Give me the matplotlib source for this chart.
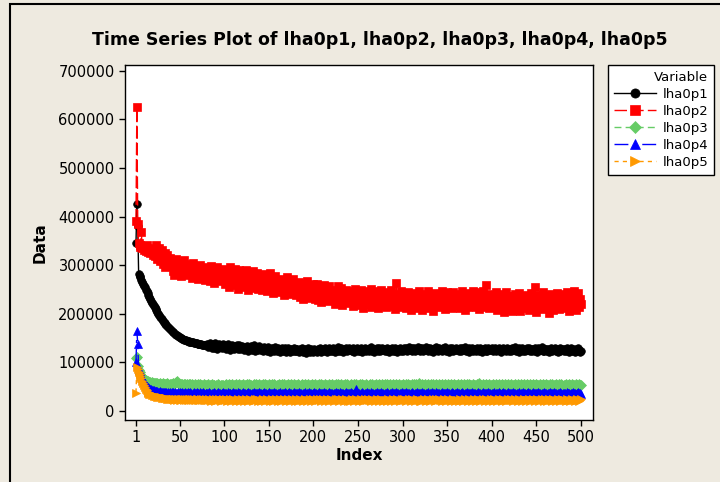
import numpy as np
import matplotlib
matplotlib.use("Agg")
import matplotlib.pyplot as plt
from matplotlib.patches import Rectangle

# values, in thousands
lha0p1 = [
    345,425,380,282,278,275,270,266,262,258,255,250,246,242,238,234,230,227,223,220,
    216,214,210,207,203,200,198,194,191,189,186,184,181,179,177,174,172,171,168,167,
    165,163,162,160,158,157,156,154,153,152,151,150,149,148,147,147,146,145,144,144,
    143,142,142,141,141,140,140,139,139,138,138,138,137,137,136,136,136,135,135,135,
    138,131,136,140,133,129,137,134,130,139,135,128,133,137,131,136,129,134,138,132,
    135,128,133,137,130,126,134,131,136,129,127,133,130,135,128,132,136,127,131,134,
    130,125,132,127,134,129,124,131,128,133,126,130,135,127,124,131,129,126,133,128,
    125,130,127,123,131,126,129,124,132,128,122,127,130,125,128,123,131,126,124,129,
    127,122,128,125,130,123,126,129,121,127,124,130,125,122,128,126,123,129,124,127,
    123,128,125,121,127,124,129,122,126,128,123,120,126,129,124,122,127,125,121,126,
    128,123,126,121,127,124,129,122,125,128,123,126,130,124,121,127,125,129,123,126,
    124,129,126,122,128,125,131,123,127,124,129,126,122,128,125,130,127,123,126,129,
    125,128,123,129,126,122,128,125,130,124,127,123,129,126,121,127,125,129,124,128,
    126,123,129,125,131,124,127,122,128,126,130,124,127,129,123,126,130,125,128,124,
    127,124,130,126,122,128,125,129,123,127,124,130,126,121,127,125,129,124,128,126,
    123,129,126,130,124,128,131,125,127,123,129,126,130,124,128,125,131,127,124,129,
    126,130,124,128,125,131,127,123,129,126,130,124,128,122,127,129,125,131,126,124,
    129,125,128,123,130,126,127,131,124,128,126,122,129,125,130,127,124,128,126,130,
    125,128,124,130,126,123,129,127,125,131,124,128,126,122,129,127,125,130,124,128,
    127,123,129,125,128,124,130,126,122,128,125,129,124,127,123,130,126,128,125,129,
    124,128,126,130,123,127,125,129,124,121,128,126,130,125,127,123,129,126,124,128,
    126,123,129,125,127,131,124,128,126,122,129,125,127,130,124,126,123,128,125,129,
    125,129,124,127,123,128,126,130,124,127,122,129,125,128,126,131,124,127,123,128,
    127,124,128,122,126,129,125,123,128,126,130,124,127,121,126,129,124,127,125,128,
    124,127,123,129,125,128,122,126,130,124,127,125,121,128,126,123,129,125,122,124,
]
lha0p2 = [
    390,625,385,345,338,342,369,335,340,332,338,330,342,328,336,331,325,334,329,320,
    334,318,341,322,312,329,336,308,320,331,302,317,325,296,312,321,305,298,315,303,
    309,288,301,280,296,312,289,299,284,305,292,278,300,287,310,283,295,302,279,293,
    298,281,293,274,305,286,279,297,283,272,294,288,301,276,290,282,296,270,289,284,
    293,275,288,268,299,281,276,290,263,285,279,296,270,287,282,274,292,267,284,278,
    262,291,270,284,255,296,278,266,288,259,281,293,268,276,252,290,273,262,285,270,
    281,256,272,290,261,268,249,283,264,276,253,288,270,258,279,262,284,251,273,266,
    276,248,268,282,255,263,279,246,270,258,284,252,266,274,243,260,277,255,268,249,
    268,244,259,271,250,262,238,265,254,276,245,258,268,241,263,251,272,247,256,262,
    238,259,243,266,235,252,247,230,261,244,255,236,268,241,250,233,257,245,262,239,
    252,231,246,262,228,243,238,255,225,249,236,260,232,244,251,226,240,257,234,246,
    229,250,238,221,245,233,258,226,241,230,253,219,238,246,227,249,235,222,244,231,
    247,225,238,216,242,230,251,222,236,244,218,233,249,227,240,212,235,246,224,238,
    221,243,230,252,215,236,226,246,219,238,231,211,244,225,237,250,218,232,224,241,
    213,236,227,245,220,232,249,216,238,226,209,235,263,222,240,218,231,246,214,229,
    240,217,232,211,228,245,221,234,207,230,243,219,226,238,212,233,222,247,216,229,
    236,208,225,241,219,232,214,229,246,211,233,222,238,205,227,242,217,230,221,236,
    214,238,225,247,219,231,210,236,228,244,216,233,222,240,212,229,245,220,235,226,
    241,218,230,212,237,225,246,221,233,208,239,227,215,243,224,236,218,231,247,222,
    230,213,238,224,244,209,229,237,219,246,226,214,233,259,221,240,211,228,235,218,
    238,215,230,222,245,207,233,219,241,226,212,236,224,203,231,244,216,228,209,237,
    220,236,205,229,215,240,223,210,234,218,243,206,228,221,237,211,226,214,239,219,
    231,208,224,242,213,236,219,255,227,204,238,216,230,211,234,223,244,209,228,217,
    236,212,229,201,224,241,215,232,207,238,220,213,242,226,209,233,218,240,214,229,
    211,237,223,244,216,231,206,240,219,233,212,246,225,208,236,218,243,214,230,221,
]
lha0p3 = [
    110,112,92,85,80,76,73,70,68,66,64,63,62,61,60,59,60,58,59,57,
    58,57,56,58,57,56,55,57,56,55,57,56,54,56,55,57,55,54,56,55,
    56,54,57,55,58,60,62,58,56,55,54,56,55,53,55,56,54,55,53,56,
    54,55,53,56,54,52,55,54,53,55,52,54,56,53,54,52,55,53,54,52,
    53,55,52,54,53,55,52,54,53,51,54,52,55,53,52,54,53,51,54,52,
    53,55,52,54,56,53,51,54,55,52,54,53,56,52,54,55,53,51,54,53,
    55,52,54,53,56,54,52,55,53,54,51,54,56,53,52,55,54,53,55,52,
    54,53,55,52,54,56,53,54,52,55,53,54,56,52,53,55,54,52,54,53,
    55,53,52,54,56,53,55,52,54,53,55,51,54,53,56,54,52,55,53,54,
    52,54,55,53,51,54,56,53,54,52,55,53,54,56,52,54,53,55,52,54,
    53,55,52,54,53,56,54,52,55,53,54,52,55,54,53,51,54,56,53,54,
    55,52,54,53,56,54,52,55,53,54,55,52,54,53,56,52,54,55,53,52,
    54,56,53,52,55,54,53,55,52,54,53,56,54,52,55,53,54,52,56,53,
    52,54,55,53,54,56,52,54,53,55,52,54,56,53,54,52,55,53,54,56,
    53,52,55,54,53,56,52,54,55,53,54,52,56,54,53,55,52,54,53,55,
    54,53,52,55,54,56,53,54,52,55,53,54,56,52,55,53,54,57,53,54,
    52,55,54,53,56,52,54,55,53,52,54,56,53,55,52,54,53,55,54,52,
    55,53,54,56,52,54,53,55,54,52,55,53,54,56,53,52,54,55,53,54,
    53,55,52,54,56,53,54,52,55,54,53,56,52,54,55,53,54,52,55,53,
    54,52,55,53,54,57,53,54,52,55,53,54,56,52,54,53,55,52,54,53,
    55,53,54,52,56,54,53,55,52,54,53,55,54,52,56,53,54,55,52,54,
    53,55,52,54,53,56,54,52,55,53,54,52,55,54,53,56,52,54,53,55,
    54,52,55,53,54,56,53,52,54,55,53,54,52,56,54,53,55,52,54,53,
    55,53,54,52,56,54,53,55,52,54,53,55,54,52,55,53,54,56,53,52,
    54,53,55,52,54,53,56,54,52,55,53,54,52,55,53,54,52,55,53,54,
]
lha0p4 = [
    100,165,138,85,82,78,72,68,64,60,57,54,52,50,48,47,46,45,44,43,
    43,42,42,41,41,40,40,41,39,40,39,40,38,39,40,38,39,38,40,37,
    39,38,40,37,39,38,37,39,38,40,37,38,39,37,38,40,38,37,39,38,
    37,39,38,36,38,39,37,38,40,37,38,36,39,38,37,39,38,36,38,37,
    38,37,39,38,36,38,37,39,38,37,36,38,39,37,38,36,38,37,39,38,
    37,38,36,39,38,37,38,36,38,39,37,38,37,36,39,38,37,38,36,38,
    39,37,38,36,38,37,39,38,37,36,38,37,39,38,36,38,37,38,39,37,
    38,36,38,37,39,38,37,36,38,39,37,38,36,38,37,39,38,37,36,38,
    37,39,38,36,38,37,38,39,37,36,38,37,39,38,37,36,38,39,37,38,
    36,38,37,39,38,37,36,38,37,39,38,36,38,37,39,38,37,36,38,37,
    39,38,37,36,38,39,37,38,36,38,37,39,38,37,36,38,37,39,38,37,
    38,36,38,37,39,38,37,38,36,39,38,37,38,36,38,37,39,38,37,38,
    37,39,38,36,38,37,39,46,40,38,37,36,38,39,37,38,36,38,37,39,
    38,37,36,38,39,37,38,36,38,37,39,38,37,36,38,39,37,38,36,38,
    37,38,39,37,36,38,37,39,38,37,36,38,39,37,38,36,38,37,39,38,
    36,38,37,39,38,37,38,36,38,39,37,38,36,38,37,39,38,37,38,36,
    38,39,37,38,36,38,37,39,38,36,38,37,39,38,37,36,38,39,37,38,
    37,36,38,39,37,38,36,38,37,39,38,37,36,38,39,37,38,36,38,37,
    39,38,37,36,38,37,39,38,36,38,37,39,38,37,36,38,37,39,38,37,
    38,36,38,37,39,38,37,36,38,39,37,38,36,38,37,39,38,37,36,38,
    37,39,38,36,38,37,38,39,37,36,38,37,39,38,37,36,38,39,37,38,
    36,38,37,39,38,37,36,38,37,39,38,36,38,37,39,38,37,36,38,37,
    39,37,38,36,38,39,37,38,36,38,37,39,38,37,36,38,37,39,38,37,
    38,36,38,37,39,38,37,36,38,39,37,38,36,38,37,39,38,37,36,38,
    37,38,36,39,38,37,38,36,38,37,39,38,37,36,38,37,39,38,37,34,
]
lha0p5 = [
    38,90,86,80,76,72,68,62,58,54,50,46,43,40,38,36,35,34,33,32,
    31,31,30,30,29,29,28,28,28,27,27,27,26,26,26,25,25,25,25,24,
    24,25,24,23,25,24,23,24,25,23,24,23,25,24,22,24,23,25,23,24,
    23,24,22,24,23,25,23,22,24,23,24,22,23,25,23,24,22,23,24,22,
    23,22,24,23,21,23,24,22,23,21,24,22,23,24,22,21,23,22,24,23,
    22,24,21,23,22,24,23,21,22,24,23,22,21,23,24,22,23,21,22,24,
    23,21,22,24,23,22,21,23,24,22,23,21,22,24,23,22,24,21,23,22,
    21,23,24,22,23,21,22,24,23,22,21,23,22,24,21,23,22,24,23,21,
    22,24,23,21,22,23,24,22,21,23,22,24,23,21,22,24,23,22,21,23,
    24,22,21,23,24,22,23,21,22,24,23,22,21,23,22,24,21,23,22,24,
    23,21,22,24,23,22,24,21,23,22,24,23,21,22,24,23,22,21,23,24,
    22,23,21,22,24,23,22,24,21,23,22,24,23,21,22,23,24,22,21,23,
    21,23,24,22,23,21,22,24,23,22,21,23,24,22,23,21,22,24,23,22,
    24,22,23,21,22,24,23,22,21,23,24,22,23,21,22,24,23,21,22,23,
    22,21,23,24,22,23,21,22,24,23,22,21,23,24,22,23,21,22,24,22,
    23,24,22,21,23,22,24,23,21,22,24,23,22,21,23,24,22,23,21,22,
    21,23,22,24,23,21,22,23,24,22,21,23,22,24,23,21,22,24,23,22,
    24,22,23,21,22,24,23,22,21,23,24,22,23,21,22,23,24,22,21,23,
    22,23,21,24,22,23,22,21,23,24,22,23,21,22,24,23,22,21,23,24,
    23,21,22,23,24,22,21,23,22,24,23,21,22,24,23,22,21,23,24,22,
    21,23,24,22,23,21,22,24,23,22,21,23,24,22,23,21,22,24,23,22,
    24,22,23,21,22,24,23,22,21,23,24,22,23,21,22,24,23,21,22,23,
    22,24,21,23,22,24,23,21,22,23,24,22,21,23,22,24,23,21,22,24,
    23,21,22,24,23,22,21,23,24,22,23,21,22,24,23,22,21,23,24,22,
    22,23,21,24,22,23,22,21,23,24,22,23,21,22,24,23,22,21,23,25,
]

names = ["lha0p1", "lha0p2", "lha0p3", "lha0p4", "lha0p5"]
series = [lha0p1, lha0p2, lha0p3, lha0p4, lha0p5]
xticks = [1, 50, 100, 150, 200, 250, 300, 350, 400, 450, 500]
yticks = [0, 100000, 200000, 300000, 400000, 500000, 600000, 700000]

colors = ["black", "#ff0000", "#66cc66", "#0000ff", "#ff9900"]
markers = ["o", "s", "D", "^", ">"]
msizes = [5.5, 5.5, 5, 5.5, 6]
styles = ["-", (0, (9, 3)), (0, (5, 3)), (0, (10, 4, 2, 4)), (0, (3, 3))]

for s in series:
    print(len(s))

bg = "#eeeae0"
fig = plt.figure(figsize=(7.2, 4.82), dpi=100, facecolor=bg)
ax = fig.add_axes([125/720, 1-420/482, 468/720, 355/482])
ax.set_facecolor("white")

for name, s, c, m, ms, ls in zip(names, series, colors, markers, msizes, styles):
    idx = np.arange(1, len(s)+1)
    ax.plot(idx, np.array(s)*1000, color=c, marker=m, markersize=ms,
            markeredgewidth=0.5, linestyle=ls, linewidth=1, label=name)

ax.set_xlim(-11.3, 513.5)
ax.set_ylim(-18500, 712000)
ax.set_xticks(xticks)
ax.set_yticks(yticks)
ax.set_yticklabels([str(v) for v in yticks])
ax.tick_params(direction="out", length=4.5, width=1, labelsize=10.5, pad=3)
for sp in ax.spines.values():
    sp.set_linewidth(1)
ax.set_xlabel("Index", fontsize=11, fontweight="bold", labelpad=2)
ax.set_ylabel("Data", fontsize=11, fontweight="bold", labelpad=8)

fig.text(380/720, 1-40/482, "Time Series Plot of lha0p1, lha0p2, lha0p3, lha0p4, lha0p5",
         ha="center", va="center", fontsize=12.5, fontweight="bold")

h, l = ax.get_legend_handles_labels()
leg = fig.legend(h, l, title="Variable", loc="upper left",
                 bbox_to_anchor=(608/720, 1-65/482), borderaxespad=0,
                 fontsize=9.5, title_fontsize=9.5,
                 frameon=True, fancybox=False, edgecolor="black", framealpha=1,
                 handlelength=3.2, handletextpad=0.5, labelspacing=0.3,
                 borderpad=0.45, alignment="right", markerscale=1.2)
leg.get_frame().set_linewidth(1)

# outer frame of the graph window
fig.patches.append(Rectangle((10/720, -0.1), 1.2, 1.1 - 4/482, transform=fig.transFigure,
                             fill=False, edgecolor="black", linewidth=1.5))

fig.savefig("out.png", dpi=100, facecolor=bg)
